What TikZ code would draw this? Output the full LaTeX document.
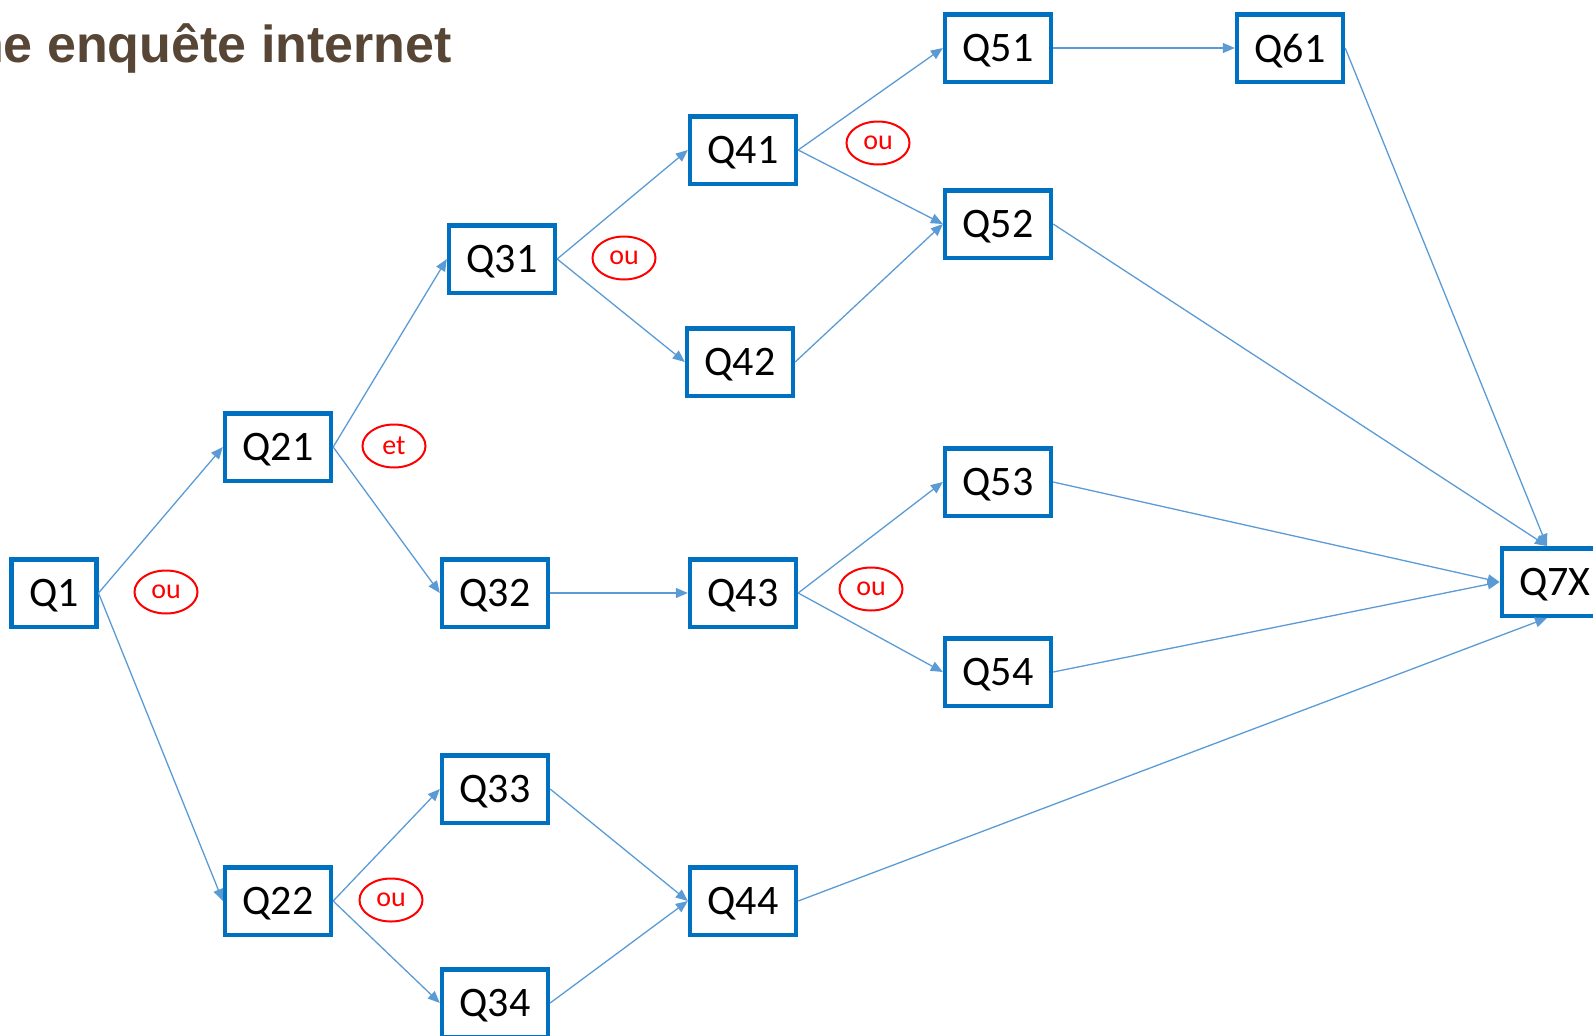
\documentclass[tikz,border=0pt]{standalone}
\usepackage{fontspec}
\setmainfont{Carlito}
\newfontfamily\titlefont{Liberation Sans}
\usetikzlibrary{arrows.meta,shapes.geometric}
\definecolor{boxblue}{HTML}{0070C0}
\definecolor{arrowblue}{HTML}{5B9BD5}
\definecolor{titlebrown}{HTML}{574535}
\definecolor{ored}{HTML}{FF0000}
\begin{document}
\begin{tikzpicture}[x=1pt,y=-1pt,
  qbox/.style={draw=boxblue,line width=4.5pt,rectangle,fill=white,inner xsep=17.5pt,inner ysep=0pt,text depth=0pt,minimum height=67.5pt,font=\fontsize{42}{50}\selectfont},
  oplabel/.style={draw=ored,line width=2pt,ellipse,inner sep=0pt,minimum width=63pt,minimum height=43pt,text=ored,font=\fontsize{28}{34}\selectfont},
  link/.style={draw=arrowblue,line width=1.3pt,-{Triangle[length=12pt,width=10pt]}}]
\useasboundingbox (0,0) rectangle (1593,1036);
\clip (0,0) rectangle (1593,1036);
\node[anchor=base east,inner sep=0pt,text=titlebrown,font=\titlefont\bfseries\fontsize{52}{60}\selectfont] (title) at (452,62) {Une enquête internet};
\node[qbox] (q1) at (54,593) {Q1};
\node[qbox] (q21) at (278,447) {Q21};
\node[qbox] (q22) at (278,901) {Q22};
\node[qbox] (q31) at (502,259) {Q31};
\node[qbox] (q32) at (495,593) {Q32};
\node[qbox] (q33) at (495,789) {Q33};
\node[qbox] (q34) at (495,1003) {Q34};
\node[qbox] (q41) at (743,150) {Q41};
\node[qbox] (q42) at (740,362) {Q42};
\node[qbox] (q43) at (743,593) {Q43};
\node[qbox] (q44) at (743,901) {Q44};
\node[qbox] (q51) at (998,48) {Q51};
\node[qbox] (q52) at (998,224) {Q52};
\node[qbox] (q53) at (998,482) {Q53};
\node[qbox] (q54) at (998,672) {Q54};
\node[qbox] (q61) at (1290,48) {Q61};
\node[qbox] (q7x) at (1555,582) {Q7X};
\node[oplabel] (o1) at (166,592) {ou};
\node[oplabel] (o21) at (394,446) {et};
\node[oplabel] (o22) at (391,900) {ou};
\node[oplabel] (o31) at (624,258) {ou};
\node[oplabel] (o41) at (878,143) {ou};
\node[oplabel] (o43) at (871,589) {ou};
\coordinate (q7xtop) at ([xshift=-8pt]q7x.north);
\coordinate (q7xbot) at ([xshift=-8pt]q7x.south);
\draw[link] (q1.east) -- (q21.west);
\draw[link] (q1.east) -- (q22.west);
\draw[link] (q21.east) -- (q31.west);
\draw[link] (q21.east) -- (q32.west);
\draw[link] (q22.east) -- (q33.west);
\draw[link] (q22.east) -- (q34.west);
\draw[link] (q31.east) -- (q41.west);
\draw[link] (q31.east) -- (q42.west);
\draw[link] (q32.east) -- (q43.west);
\draw[link] (q33.east) -- (q44.west);
\draw[link] (q34.east) -- (q44.west);
\draw[link] (q41.east) -- (q51.west);
\draw[link] (q41.east) -- (q52.west);
\draw[link] (q42.east) -- (q52.west);
\draw[link] (q43.east) -- (q53.west);
\draw[link] (q43.east) -- (q54.west);
\draw[link] (q51.east) -- (q61.west);
\draw[link] (q61.east) -- (q7xtop);
\draw[link] (q52.east) -- (q7xtop);
\draw[link] (q53.east) -- (q7x.west);
\draw[link] (q54.east) -- (q7x.west);
\draw[link] (q44.east) -- (q7xbot);
\end{tikzpicture}
\end{document}
